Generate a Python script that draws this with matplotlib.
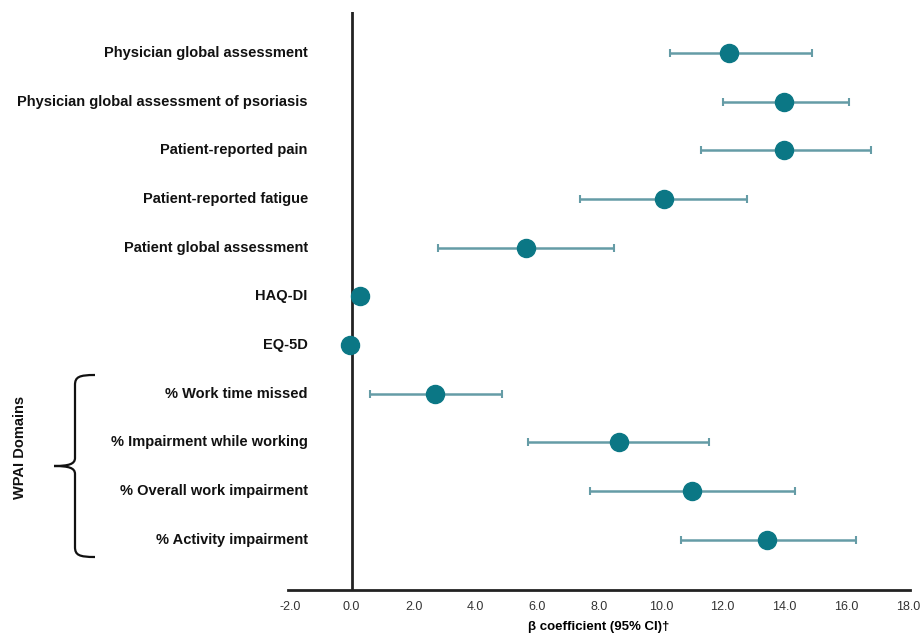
import matplotlib.pyplot as plt
from matplotlib.path import Path
from matplotlib.patches import PathPatch
import numpy as np

plt.rcParams['font.family'] = ['Liberation Sans', 'DejaVu Sans']

# data
labels = ["Physician global assessment",
          "Physician global assessment of psoriasis",
          "Patient-reported pain",
          "Patient-reported fatigue",
          "Patient global assessment",
          "HAQ-DI",
          "EQ-5D",
          "% Work time missed",
          "% Impairment while working",
          "% Overall work impairment",
          "% Activity impairment"]
beta = [12.2, 14.0, 14.0, 10.1, 5.65, 0.26, -0.06, 2.7, 8.65, 11.0, 13.45]
ci_low = [10.3, 12.0, 11.3, 7.4, 2.8, 0.16, -0.16, 0.6, 5.7, 7.7, 10.65]
ci_high = [14.9, 16.1, 16.8, 12.8, 8.5, 0.36, 0.04, 4.85, 11.55, 14.35, 16.3]
xticks = np.arange(-2, 18.1, 2)

teal = "#0b7785"
bar_col = "#659ca6"

fig = plt.figure(figsize=(9.24, 6.35), dpi=100)
ax = fig.add_axes([288/924, 1-590/635, (910-288)/924, (590-12)/635])

y = np.arange(len(labels))
beta = np.array(beta)
lo = beta - np.array(ci_low)
hi = np.array(ci_high) - beta
ax.errorbar(beta, y, xerr=[lo, hi], fmt='none', ecolor=bar_col, elinewidth=1.8,
            capsize=3, capthick=1.5, zorder=2)
ax.plot(beta, y, 'o', color=teal, markersize=13, zorder=3)

ax.axvline(0, color="#222222", lw=2, zorder=1)

ax.set_xlim(-2.06, 18.06)
ax.set_ylim(len(labels) - 1 + 1.03, -0.84)
ax.set_xticks(xticks)
ax.set_xticklabels(["%.1f" % v for v in xticks], fontsize=9, color="#333333")
ax.tick_params(axis='x', length=0, pad=8)
ax.set_yticks([])
for s in ['top', 'right', 'left']:
    ax.spines[s].set_visible(False)
ax.spines['bottom'].set_linewidth(2)
ax.spines['bottom'].set_color("#222222")
ax.set_xlabel("β coefficient (95% CI)†", fontsize=9.5, fontweight='bold', labelpad=6)

for i, lab in enumerate(labels):
    ax.text(-1.42, i, lab, ha='right', va='center', fontsize=10.5,
            fontweight='bold', color="#111111", clip_on=False)

# brace for WPAI domains, drawn in pixel coords on an overlay
ov = fig.add_axes([0, 0, 1, 1], facecolor='none')
ov.set_xlim(0, 924)
ov.set_ylim(635, 0)
ov.axis('off')
top, bot, mid = 375, 557, 466
xv, xe, xt = 75, 95, 54
verts = [(xe, top), (xv + 4, top), (xv, top + 2), (xv, top + 10),
         (xv, mid - 8),
         (xv, mid - 2), (xv - 6, mid), (xt, mid),
         (xv - 6, mid), (xv, mid + 2), (xv, mid + 8),
         (xv, bot - 10),
         (xv, bot - 2), (xv + 4, bot), (xe, bot)]
codes = [Path.MOVETO, Path.CURVE4, Path.CURVE4, Path.CURVE4,
         Path.LINETO,
         Path.CURVE4, Path.CURVE4, Path.CURVE4,
         Path.CURVE4, Path.CURVE4, Path.CURVE4,
         Path.LINETO,
         Path.CURVE4, Path.CURVE4, Path.CURVE4]
ov.add_patch(PathPatch(Path(verts, codes), fill=False, lw=1.6, color="#111111"))
ov.text(20, 447, "WPAI Domains", rotation=90, ha='center', va='center',
        fontsize=10.5, fontweight='bold', color="#111111")

fig.savefig("out.png", dpi=100)
